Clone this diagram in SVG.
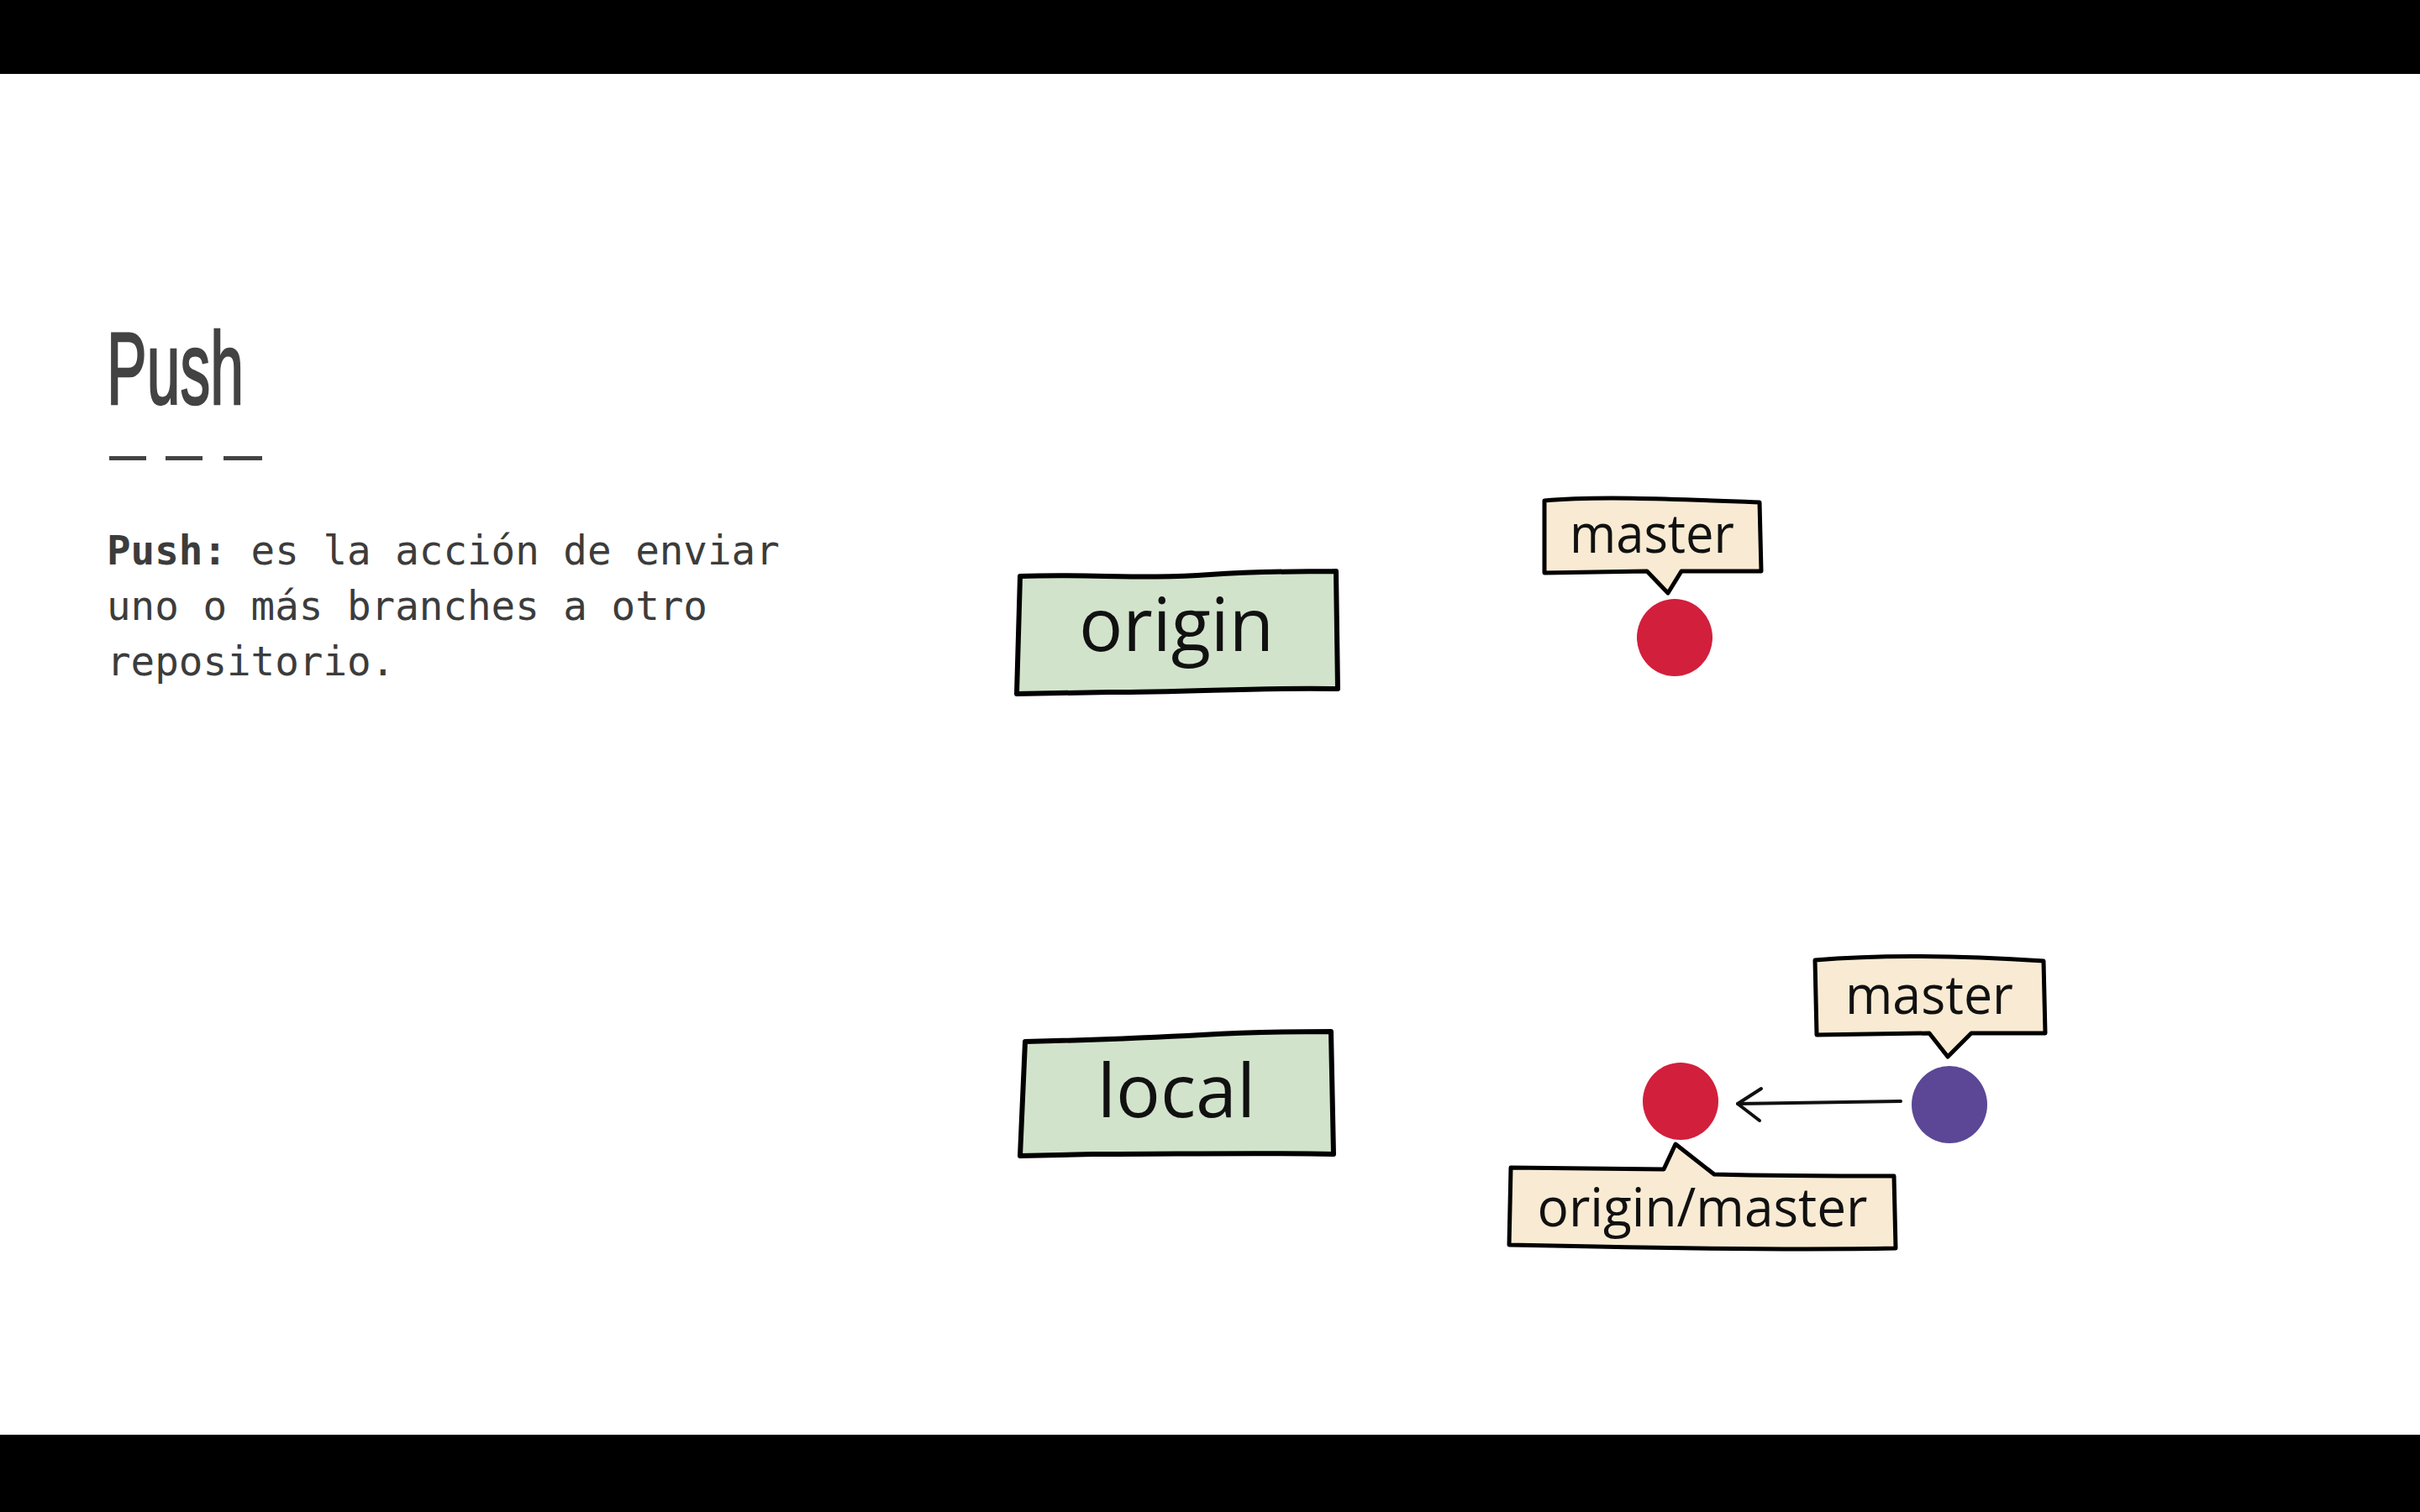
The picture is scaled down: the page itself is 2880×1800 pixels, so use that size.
<svg xmlns="http://www.w3.org/2000/svg" width="2880" height="1800" viewBox="0 0 2880 1800">
<style>
.bar{fill:#000}
.title{font-family:"Liberation Sans",Arial,sans-serif;font-size:122px;fill:#434343;stroke:#434343;stroke-width:2.5px}
.body{font-family:"DejaVu Sans Mono","Liberation Mono",monospace;font-size:47.5px;fill:#3c3c3c}
.bold{font-weight:bold}
.box{fill:#d2e3cc;stroke:#000;stroke-width:6;stroke-linejoin:round}
.lbl{fill:#f9ebd3;stroke:#000;stroke-width:5;stroke-linejoin:round}
.big{font-family:"Open Sans","Liberation Sans",sans-serif;font-size:88px;fill:#111;text-anchor:middle}
.small{font-family:"Open Sans","Liberation Sans",sans-serif;font-size:64px;fill:#111;text-anchor:middle}
.red{fill:#d21f3c}
.purple{fill:#5b4795}
.conn{stroke:#111;stroke-width:4;fill:none;stroke-linecap:round;stroke-linejoin:round}
</style>
<rect width="2880" height="1800" fill="#fff"/>
<rect class="bar" x="0" y="0" width="2880" height="88"/>
<rect class="bar" x="0" y="1708" width="2880" height="92"/>

<g id="title">
<text class="title" x="127" y="481" textLength="163" lengthAdjust="spacingAndGlyphs">Push</text>
<g fill="#434343">
<rect x="130" y="543" width="44" height="5"/>
<rect x="197" y="543" width="44" height="5"/>
<rect x="266" y="543" width="46" height="5"/>
</g>
</g>

<g id="description">
<text class="body" x="127" y="672"><tspan class="bold">Push:</tspan> es la acción de enviar</text>
<text class="body" x="127" y="738">uno o más branches a otro</text>
<text class="body" x="127" y="804">repositorio.</text>
</g>

<g id="origin">
<path class="box" d="M1214,686 C1300,683 1360,690 1440,684 C1510,679 1560,681 1590,680 L1592,820 C1500,818 1420,824 1320,824 L1210,826 Z"/>
<text class="big" x="1400" y="775" textLength="232" lengthAdjust="spacingAndGlyphs">origin</text>
</g>

<g id="origin-master-label">
<path class="lbl" d="M1838,596 C1900,590 1990,594 2094,598 L2096,680 L2001,680 L1985,706 L1960,680 L1838,682 Z"/>
<text class="small" x="1966" y="658" textLength="196" lengthAdjust="spacingAndGlyphs">master</text>
</g>

<g id="origin-commit">
<ellipse class="red" cx="1993" cy="759" rx="45" ry="46"/>
</g>

<g id="local">
<path class="box" d="M1220,1240 C1300,1238 1360,1236 1430,1232 C1500,1228 1550,1228 1584,1228 L1587,1374 C1500,1372 1400,1374 1300,1374 L1214,1376 Z"/>
<text class="big" x="1400" y="1330">local</text>
</g>

<g id="local-master-label">
<path class="lbl" d="M2160,1143 C2240,1136 2340,1138 2432,1144 L2434,1230 L2346,1230 L2318,1258 L2296,1230 L2162,1232 Z"/>
<text class="small" x="2296" y="1207" textLength="200" lengthAdjust="spacingAndGlyphs">master</text>
</g>

<g id="local-commit-old">
<ellipse class="red" cx="2000" cy="1311" rx="45" ry="46"/>
</g>

<g id="local-commit-new">
<ellipse class="purple" cx="2320" cy="1315" rx="45" ry="46"/>
</g>

<g id="origin-master-tracking-label">
<path class="lbl" d="M1798,1390 L1980,1392 L1994,1362 L2040,1398 C2120,1400 2200,1400 2254,1400 L2256,1486 C2150,1488 2000,1486 1900,1484 L1796,1482 Z"/>
<text class="small" x="2026" y="1460" textLength="393" lengthAdjust="spacingAndGlyphs">origin/master</text>
</g>

<g id="connectors">
<path class="conn" d="M2262,1311 L2068,1314"/>
<path class="conn" d="M2096,1296 L2068,1314 L2094,1334"/>
</g>
</svg>
